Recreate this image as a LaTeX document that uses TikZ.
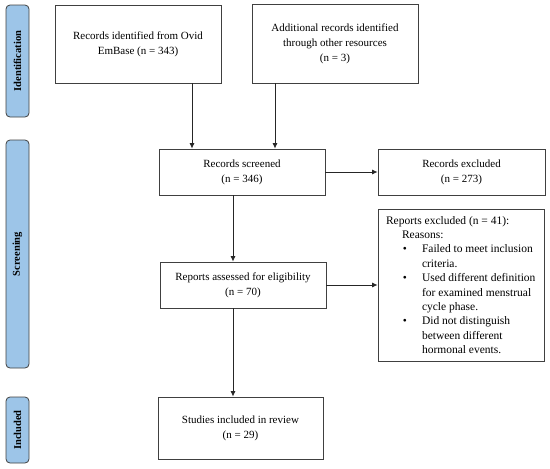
\documentclass[tikz,border=0pt]{standalone}
\usepackage{fontspec}
\setmainfont{Liberation Serif}
\usetikzlibrary{arrows.meta}
\definecolor{lblue}{RGB}{157,197,232}
\begin{document}
\begin{tikzpicture}[x=1pt,y=-1pt,
  box/.style={draw=black!75,line width=0.8pt,align=center,inner sep=2pt,
    font=\fontsize{11}{15}\selectfont},
  phase/.style={draw=black!75,line width=0.8pt,fill=lblue,rounded corners=4pt,
    rotate=90,minimum height=23pt,inner sep=1pt,
    font=\bfseries\fontsize{10.5}{12}\selectfont},
  arr/.style={-{Latex[length=5.5pt,width=5pt]},line width=0.8pt,draw=black!85}]
\useasboundingbox (0,0) rectangle (550,469);
% phase labels
\node[phase,minimum width=112pt] (pid) at (17.5,61) {Identification};
\node[phase,minimum width=228pt] (pscr) at (17.5,254) {Screening};
\node[phase,minimum width=66pt] (pinc) at (17.5,430) {Included};
% boxes
\node[box,minimum width=166pt,minimum height=78pt] (ovid) at (138,44)
  {Records identified from Ovid\\EmBase (n = 343)};
\node[box,minimum width=166pt,minimum height=79pt] (add) at (335,43.5)
  {Additional records identified\\through other resources\\(n = 3)};
\node[box,minimum width=166pt,minimum height=46pt] (scr) at (242,172)
  {Records screened\\(n = 346)};
\node[box,minimum width=167pt,minimum height=46pt] (rex) at (461.5,172)
  {Records excluded\\(n = 273)};
\node[box,minimum width=166pt,minimum height=46pt] (ass) at (243,285)
  {Reports assessed for eligibility\\(n = 70)};
\node[box,minimum width=166pt,minimum height=152pt,inner sep=0pt] (rpx) at (461,285)
  {\begin{minipage}{150pt}\raggedright\fontsize{11.5}{14.4}\selectfont
   Reports excluded (n = 41):\par
   \hspace*{16pt}Reasons:\par
   \begin{list}{\textbullet}{\leftmargin=36pt\labelwidth=12pt\labelsep=15pt
     \itemsep=0pt\topsep=0pt\parsep=0pt\partopsep=0pt}
   \item Failed to meet inclusion\newline criteria.
   \item Used different definition\newline for examined menstrual\newline cycle phase.
   \item Did not distinguish\newline between different\newline hormonal events.
   \end{list}
   \end{minipage}};
\node[box,minimum width=165pt,minimum height=62pt] (inc) at (240.5,428)
  {Studies included in review\\(n = 29)};
% connectors
\draw[arr] ([xshift=54pt]ovid.south) -- ([xshift=54pt]ovid.south |- scr.north);
\draw[arr] ([xshift=-60pt]add.south) -- ([xshift=-60pt]add.south |- scr.north);
\draw[arr] (scr.east) -- (rex.west);
\draw[arr] ([xshift=-9pt]scr.south) -- ([xshift=-9pt]scr.south |- ass.north);
\draw[arr] (ass.east) -- (ass.east -| rpx.west);
\draw[arr] ([xshift=-10pt]ass.south) -- ([xshift=-10pt]ass.south |- inc.north);
\end{tikzpicture}
\end{document}
